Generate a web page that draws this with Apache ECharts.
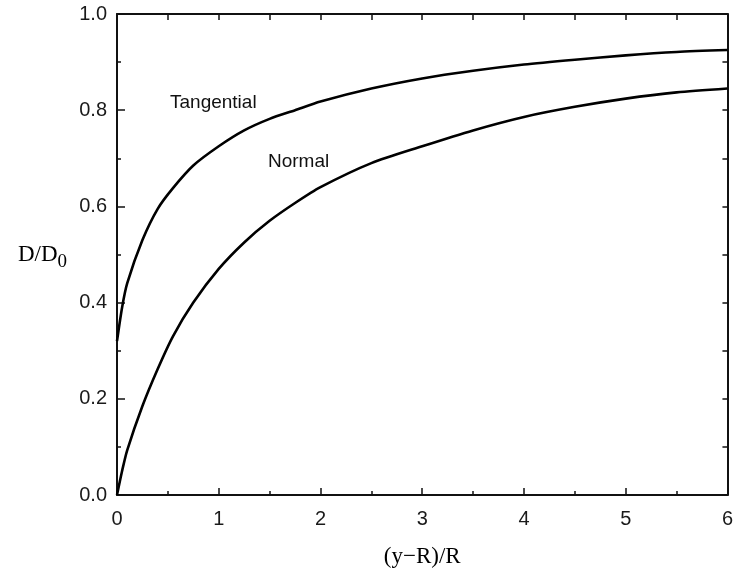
<!DOCTYPE html>
<html>
<head>
<meta charset="utf-8">
<script src="https://cdn.jsdelivr.net/npm/echarts@6/dist/echarts.min.js"></script>
<style>html,body{margin:0;padding:0;background:#fff}#c{width:736px;height:575px}</style>
</head>
<body>
<div id="c"></div>
<script>
const xValues = [0, 0.05, 0.1, 0.25, 0.4, 0.55, 0.75, 1, 1.25, 1.5, 1.75, 2, 2.5, 3, 3.5, 4, 4.5, 5, 5.5, 6];
const tangential = [0.32, 0.39, 0.44, 0.53, 0.595, 0.638, 0.685, 0.725, 0.758, 0.782, 0.80, 0.818, 0.845, 0.866, 0.882, 0.895, 0.905, 0.914, 0.921, 0.925];
const normal = [0, 0.05, 0.093, 0.185, 0.262, 0.33, 0.40, 0.47, 0.525, 0.57, 0.607, 0.64, 0.69, 0.725, 0.758, 0.786, 0.807, 0.824, 0.837, 0.845];
const curveLabels = ['Tangential', 'Normal'];
const xTitle = '(y\u2212R)/R';

const chart = echarts.init(document.getElementById('c'));
const font = 'Liberation Sans, Arial, sans-serif';
const serif = 'Liberation Serif, Times New Roman, serif';
const axisLine = {show: true, onZero: false, lineStyle: {color: '#111', width: 2}};
const tickStyle = {color: '#111', width: 1.5};
chart.setOption({
  animation: false,
  backgroundColor: '#fff',
  grid: {left: 117, right: 8, top: 14, bottom: 80},
  xAxis: [
    {type: 'value', position: 'bottom', min: 0, max: 6, interval: 1,
     axisLine: axisLine,
     axisTick: {inside: true, length: 7, lineStyle: tickStyle},
     minorTick: {show: true, splitNumber: 2, length: 4, lineStyle: tickStyle},
     axisLabel: {color: '#1a1a1a', fontFamily: font, fontSize: 20, margin: 14},
     splitLine: {show: false},
     name: xTitle, nameLocation: 'middle', nameGap: 50,
     nameTextStyle: {fontFamily: serif, fontSize: 23, color: '#000'}},
    {type: 'value', position: 'top', min: 0, max: 6, interval: 0.5,
     axisLine: axisLine,
     axisTick: {inside: true, length: 6, lineStyle: tickStyle},
     axisLabel: {show: false}, splitLine: {show: false}}
  ],
  yAxis: [
    {type: 'value', position: 'left', min: 0, max: 1, interval: 0.2,
     axisLine: axisLine,
     axisTick: {inside: true, length: 8, lineStyle: tickStyle},
     minorTick: {show: true, splitNumber: 2, length: 4, lineStyle: tickStyle},
     axisLabel: {color: '#1a1a1a', fontFamily: font, fontSize: 20, margin: 10,
                 formatter: v => v.toFixed(1)},
     splitLine: {show: false},
     name: '{a|D/D}{b|0}', nameLocation: 'middle', nameGap: 50, nameRotate: 0,
     nameTextStyle: {align: 'right', rich: {
       a: {fontFamily: serif, fontSize: 23, color: '#000', verticalAlign: 'bottom'},
       b: {fontFamily: serif, fontSize: 19, color: '#000', verticalAlign: 'bottom', padding: [0, 0, -6, 0]}
     }}},
    {type: 'value', position: 'right', min: 0, max: 1, interval: 0.1,
     axisLine: axisLine,
     axisTick: {inside: true, length: 5, lineStyle: tickStyle},
     axisLabel: {show: false}, splitLine: {show: false}}
  ],
  series: [
    {type: 'line', name: curveLabels[0], smooth: 0.25, showSymbol: false,
     data: xValues.map((x, i) => [x, tangential[i]]),
     lineStyle: {color: '#000', width: 2.6}},
    {type: 'line', name: curveLabels[1], smooth: 0.25, showSymbol: false,
     data: xValues.map((x, i) => [x, normal[i]]),
     lineStyle: {color: '#000', width: 2.6}}
  ],
  graphic: [
    {type: 'text', left: 170, top: 93, style: {text: curveLabels[0], font: '19px ' + font, fill: '#111'}},
    {type: 'text', left: 268, top: 152, style: {text: curveLabels[1], font: '19px ' + font, fill: '#111'}}
  ]
});
</script>
</body>
</html>
